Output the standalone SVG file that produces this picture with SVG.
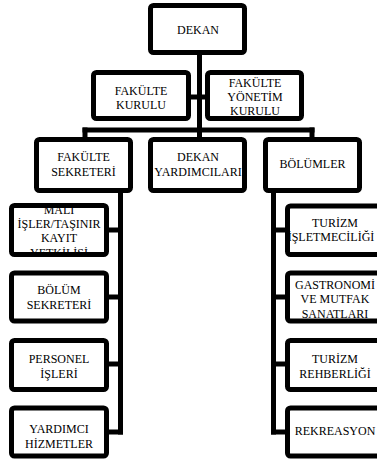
<svg xmlns="http://www.w3.org/2000/svg" width="377" height="459" viewBox="0 0 377 459">
<style>
.box{fill:#fff;stroke:#000;stroke-width:5}
.ln{stroke:#000;stroke-width:5;fill:none;stroke-linecap:square}
text{font-size:12px;fill:#000;text-anchor:middle}
</style>
<defs>
<clipPath id="clipMali"><rect x="14" y="207" width="92" height="46"/></clipPath>
</defs>
<rect width="377" height="459" fill="#fff"/>
<g id="connectors">
<line class="ln" x1="199.5" y1="55" x2="199.5" y2="130"/>
<line class="ln" x1="190" y1="97" x2="206" y2="97"/>
<line class="ln" x1="85" y1="130" x2="312" y2="130"/>
<line class="ln" x1="85" y1="130" x2="85" y2="137"/>
<line class="ln" x1="199.5" y1="130" x2="199.5" y2="137"/>
<line class="ln" x1="312" y1="130" x2="312" y2="137"/>
<line class="ln" x1="120.5" y1="193" x2="120.5" y2="432"/>
<line class="ln" x1="107" y1="230" x2="120.5" y2="230"/>
<line class="ln" x1="107" y1="297" x2="120.5" y2="297"/>
<line class="ln" x1="107" y1="364" x2="120.5" y2="364"/>
<line class="ln" x1="107" y1="432" x2="120.5" y2="432"/>
<line class="ln" x1="273.5" y1="193" x2="273.5" y2="432"/>
<line class="ln" x1="273.5" y1="230" x2="287" y2="230"/>
<line class="ln" x1="273.5" y1="297" x2="287" y2="297"/>
<line class="ln" x1="273.5" y1="364" x2="287" y2="364"/>
<line class="ln" x1="273.5" y1="432" x2="287" y2="432"/>
</g>
<g font-family="Liberation Serif, Times New Roman, serif">
<g id="dekan">
<rect class="box" x="150.5" y="5.5" width="94" height="47" rx="3"/>
<text x="198" y="34">DEKAN</text>
</g>
<g id="fakulte-kurulu">
<rect class="box" x="93.5" y="72.5" width="95" height="46" rx="3"/>
<text x="141" y="95">FAKÜLTE</text>
<text x="141" y="108.5">KURULU</text>
</g>
<g id="fakulte-yonetim-kurulu">
<rect class="box" x="207.5" y="72.5" width="94" height="46" rx="3"/>
<text x="255" y="87">FAKÜLTE</text>
<text x="255" y="101">YÖNETİM</text>
<text x="255" y="115">KURULU</text>
</g>
<g id="fakulte-sekreteri">
<rect class="box" x="36.5" y="139.5" width="94" height="51" rx="3"/>
<text x="83.5" y="161">FAKÜLTE</text>
<text x="83.5" y="175.5">SEKRETERİ</text>
</g>
<g id="dekan-yardimcilari">
<rect class="box" x="150.5" y="139.5" width="94" height="51" rx="3"/>
<text x="198" y="161">DEKAN</text>
<text x="198" y="175.5">YARDIMCILARI</text>
</g>
<g id="bolumler">
<rect class="box" x="265.5" y="139.5" width="94" height="51" rx="3"/>
<text x="312.5" y="168">BÖLÜMLER</text>
</g>
<g id="mali-isler">
<rect class="box" x="11.5" y="205.5" width="95" height="49" rx="3"/>
<g clip-path="url(#clipMali)">
<text x="59" y="213.5">MALİ</text>
<text x="59" y="228">İŞLER/TAŞINIR</text>
<text x="59" y="242">KAYIT</text>
<text x="59" y="256.5">YETKİLİSİ</text>
</g>
</g>
<g id="bolum-sekreteri">
<rect class="box" x="11.5" y="273" width="95" height="48" rx="3"/>
<text x="59" y="293.5">BÖLÜM</text>
<text x="59" y="308.5">SEKRETERİ</text>
</g>
<g id="personel-isleri">
<rect class="box" x="11.5" y="340.5" width="95" height="49" rx="3"/>
<text x="59" y="363">PERSONEL</text>
<text x="59" y="378">İŞLERİ</text>
</g>
<g id="yardimci-hizmetler">
<rect class="box" x="11.5" y="408" width="95" height="48" rx="3"/>
<text x="59" y="433">YARDIMCI</text>
<text x="59" y="448">HİZMETLER</text>
</g>
<g id="turizm-isletmeciligi">
<rect class="box" x="287.5" y="206" width="95" height="48.5" rx="3"/>
<text x="335" y="226.5">TURİZM</text>
<text x="331" y="240.5">İŞLETMECİLİĞİ</text>
</g>
<g id="gastronomi">
<rect class="box" x="287.5" y="273" width="95" height="48" rx="3"/>
<text x="335" y="288.5">GASTRONOMİ</text>
<text x="335" y="303">VE MUTFAK</text>
<text x="335" y="317.5">SANATLARI</text>
</g>
<g id="turizm-rehberligi">
<rect class="box" x="287.5" y="340.5" width="95" height="49" rx="3"/>
<text x="335" y="363">TURİZM</text>
<text x="335" y="378">REHBERLİĞİ</text>
</g>
<g id="rekreasyon">
<rect class="box" x="287.5" y="408" width="95" height="48" rx="3"/>
<text x="335" y="435">REKREASYON</text>
</g>
</g>
</svg>
